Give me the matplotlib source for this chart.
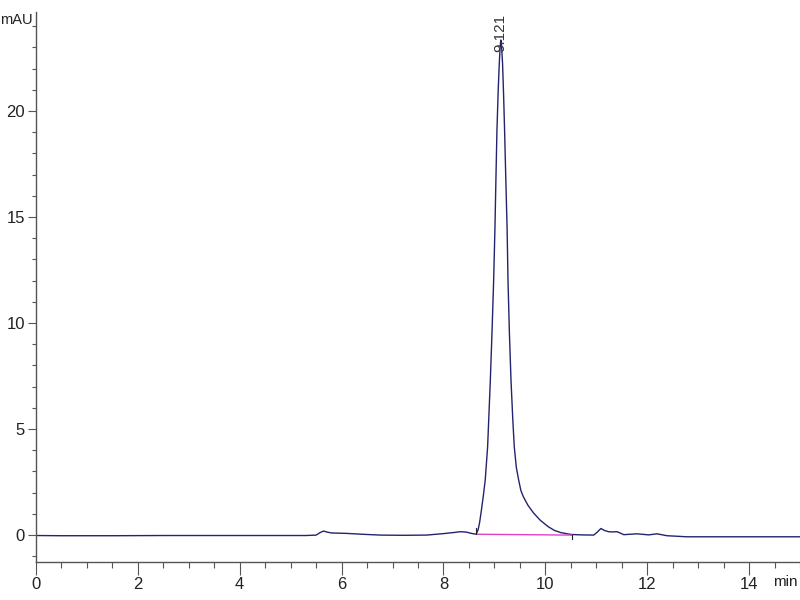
import matplotlib
matplotlib.use("Agg")
import matplotlib.pyplot as plt
from matplotlib.ticker import MultipleLocator

plt.rcParams['font.family'] = ['Liberation Sans Narrow', 'Liberation Sans', 'DejaVu Sans']

# chromatogram trace (time in min, signal in mAU)
time = [0.0, 0.5, 1.5, 2.5, 3.5, 4.5, 5.3, 5.5, 5.58, 5.645, 5.72, 5.8, 6.1, 6.4, 6.76,
        7.2, 7.67, 8.0, 8.2, 8.33, 8.45, 8.55, 8.64, 8.68, 8.71, 8.737, 8.78, 8.82,
        8.867, 8.92, 8.955, 8.985, 9.01, 9.03, 9.05, 9.075, 9.096, 9.11, 9.125,
        9.14, 9.16, 9.18, 9.2, 9.225, 9.25, 9.267, 9.295, 9.326, 9.36, 9.39, 9.43,
        9.476, 9.52, 9.57, 9.66, 9.77, 9.9, 10.06, 10.18, 10.3, 10.5, 10.7, 10.95,
        11.02, 11.09, 11.16, 11.24, 11.33, 11.41, 11.54, 11.8, 12.03, 12.19, 12.39,
        12.78, 13.5, 14.3, 15.0]
signal = [-0.02, -0.03, -0.03, -0.02, -0.02, -0.02, -0.02, 0.0, 0.12, 0.19, 0.14, 0.1,
          0.08, 0.04, 0.0, -0.01, 0.0, 0.07, 0.12, 0.16, 0.14, 0.08, 0.04, 0.25, 0.6,
          1.04, 1.8, 2.6, 4.17, 7.3, 9.7, 12.0, 14.4, 16.8, 19.1, 21.0, 22.25, 22.9,
          23.35, 23.1, 22.25, 20.8, 19.1, 16.7, 14.4, 12.0, 9.5, 7.3, 5.5, 4.17, 3.2,
          2.6, 2.1, 1.8, 1.4, 1.04, 0.7, 0.39, 0.22, 0.12, 0.03, 0.01, 0.0, 0.14,
          0.31, 0.22, 0.16, 0.15, 0.16, 0.02, 0.06, 0.01, 0.06, -0.03, -0.08, -0.08,
          -0.08, -0.08]

peak_rt = 9.121
peak_height = 23.35
# integration baseline (start, end)
base_t = [8.64, 10.52]
base_v = [0.04, 0.0]

fig = plt.figure(figsize=(8, 6), dpi=100)
ax = fig.add_axes([0.045, 0.0633, 0.955, 0.9167])

ax.plot(time, signal, color='#23236e', lw=1.0)
ax.plot(base_t, base_v, color='#e040c8', lw=1.0)

# integration start / end markers
ax.plot([base_t[0], base_t[0]], [base_v[0], base_v[0] + 0.28], color='#222222', lw=0.8)
ax.plot([base_t[1], base_t[1]], [base_v[1], base_v[1] - 0.2], color='#222222', lw=0.8)

ax.text(peak_rt, peak_height - 0.55, f"{peak_rt:.3f}", rotation=90, ha='center', va='bottom',
        fontsize=11, color='#333333')

ax.set_xlim(0, 15)
ax.set_ylim(-1.27, 24.67)

ax.xaxis.set_major_locator(MultipleLocator(2))
ax.xaxis.set_minor_locator(MultipleLocator(0.5))
ax.yaxis.set_major_locator(MultipleLocator(5))
ax.yaxis.set_minor_locator(MultipleLocator(1))

for s in ['top', 'right']:
    ax.spines[s].set_visible(False)
for s in ['left', 'bottom']:
    ax.spines[s].set_color('#555555')
    ax.spines[s].set_linewidth(1.0)

ax.tick_params(axis='both', which='major', length=9, width=0.8, color='#555555',
               labelsize=12, labelcolor='#222222', pad=2)
ax.tick_params(axis='both', which='minor', length=4, width=0.8, color='#555555')
ax.tick_params(axis='y', which='major', length=6)
ax.tick_params(axis='y', which='minor', length=3)

fig.text(16 / 800, 1 - 20 / 600, "mAU", ha='center', va='center', fontsize=10.5, color='#222222')
fig.text(798 / 800, 1 - 582 / 600, "min", ha='right', va='center', fontsize=11, color='#222222')

fig.savefig("out.png", dpi=100)
